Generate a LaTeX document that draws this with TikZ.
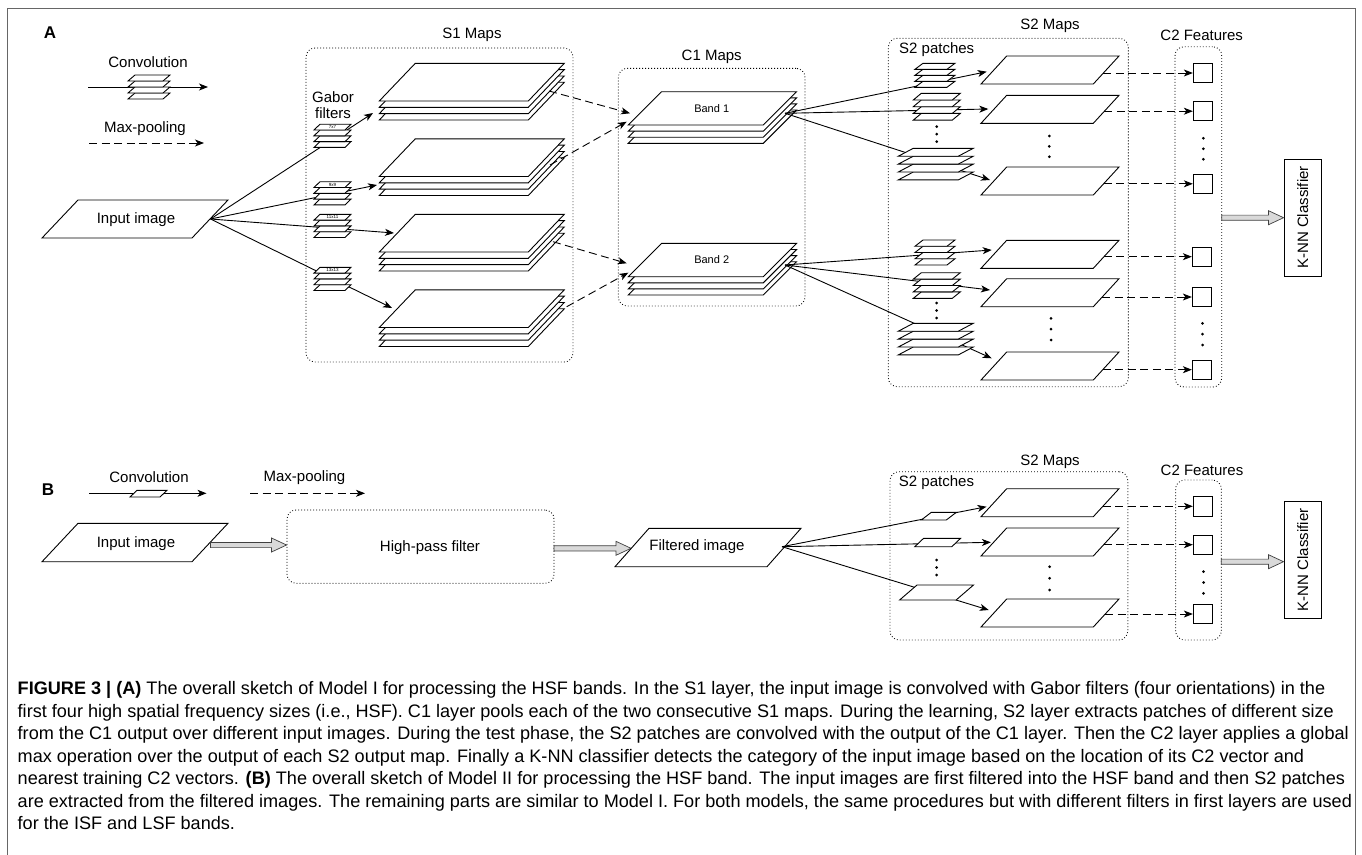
\documentclass[tikz,border=0pt]{standalone}
\usepackage{fontspec}
\setmainfont{Liberation Sans}
\usetikzlibrary{arrows.meta,calc}
\newcommand\sheet[5]{\filldraw[sheetst] (#1,#2) -- ++(#3,0) -- ++(#5,-#4) -- ++(-#3,0) -- cycle;}
\newcommand\stack[7]{\foreach \k in {#6,...,1}{\pgfmathsetmacro\yy{#2+(\k-1)*(#7)}\sheet{#1}{\yy}{#3}{#4}{#5}}}
\newcommand\blockarrow[2]{\draw[blockst] let \p1=(#1), \p2=(#2) in (\x1,\y1+2.6pt) -- (\x2-15pt,\y1+2.6pt) -- (\x2-15pt,\y1+7pt) -- (\x2,\y1) -- (\x2-15pt,\y1-7pt) -- (\x2-15pt,\y1-2.6pt) -- (\x1,\y1-2.6pt) -- cycle;}
\newcommand\dotcol[3]{\foreach \d in {0,1,2}{\fill (#1,{#2+\d*#3}) circle (1.5pt);}}
\tikzset{
 sheetst/.style={draw=black,fill=white,line width=0.9pt,line join=miter},
 convarr/.style={line width=0.9pt,-{Stealth[length=9pt,width=7pt,inset=2.5pt]}},
 pool/.style={convarr,dash pattern=on 8pt off 4.5pt},
 grp/.style={draw=black,line width=0.9pt,dash pattern=on 0.8pt off 2.2pt,rounded corners=9pt,inner sep=0pt},
 lbl/.style={font=\fontsize{15}{17}\selectfont,inner sep=0pt},
 smalllbl/.style={font=\fontsize{11}{13}\selectfont,inner sep=0pt},
 tinylbl/.style={font=\fontsize{4.5}{5}\selectfont,inner sep=0pt},
 sq/.style={draw=black,line width=0.9pt,minimum size=19.4pt,inner sep=0pt},
 knn/.style={draw=black,line width=0.9pt,minimum width=117pt,minimum height=37.7pt,inner sep=0pt,rotate=90,font=\fontsize{15}{17}\selectfont},
 blockst/.style={fill=black!15,draw=black!75,line width=0.7pt,line join=miter},
 panel/.style={font=\bfseries\fontsize{17}{19}\selectfont,inner sep=0pt},
 captext/.style={font=\fontsize{18.1}{22}\selectfont,inner sep=0pt,anchor=base west},
 frame/.style={draw=black!60,line width=1.6pt},
}
\begin{document}
\begin{tikzpicture}[x=1pt,y=-1pt]
\useasboundingbox (0,0) rectangle (1362,854);
\draw[frame] (7.5,8.3) rectangle (1355.5,858);

% ================= Panel A =================
\node[panel] (labA) at (50,33) {A};
\node[lbl] (convA) at (148,62) {Convolution};
\coordinate (convAs) at (88,87); \coordinate (convAe) at (208,87);
\draw[convarr] (convAs) -- (convAe);
\stack{128}{81}{35}{6}{7}{4}{6}
\node[lbl] (maxA) at (145,129) {Max-pooling};
\coordinate (maxAs) at (89,143); \coordinate (maxAe) at (204,143);
\draw[pool] (maxAs) -- (maxAe);

% groups
\node[grp,minimum width=267pt,minimum height=314pt] (s1box) at (439.5,205) {};
\node[lbl] (s1t) at (472,35) {S1 Maps};
\node[grp,minimum width=186.7pt,minimum height=237.7pt] (c1box) at (711.65,187.15) {};
\node[lbl] (c1t) at (711.7,56.7) {C1 Maps};
\node[grp,minimum width=240pt,minimum height=348.4pt] (s2box) at (1008.3,212.5) {};
\node[lbl] (s2t) at (1050,26) {S2 Maps};
\node[lbl] (s2p) at (936.7,50) {S2 patches};
\node[grp,minimum width=46.7pt,minimum height=340.3pt] (c2box) at (1198.35,216.85) {};
\node[lbl] (c2t) at (1201.7,35) {C2 Features};

% input image
\sheet{42}{238}{150}{38}{36}
\node[lbl] (inA) at (136,220) {Input image};
\coordinate (inAe) at (210.5,219);
\coordinate (s1a) at (373,113); \coordinate (s1b) at (377,185);
\coordinate (s1c) at (394,233); \coordinate (s1d) at (392,308);
\foreach \t in {s1a,s1b,s1c,s1d} \draw[convarr] (inAe) -- (\t);

% Gabor filters
\stack{314}{130}{31}{5.8}{6}{4}{5.8}   \node[tinylbl] (g7) at (332.5,127.1) {7x7};
\stack{314}{187.5}{31}{5.8}{6}{4}{5.8} \node[tinylbl] (g9) at (332.5,184.6) {9x9};
\stack{314}{220.1}{31}{5.8}{6}{4}{5.8} \node[tinylbl] (g11) at (332.5,217.2) {11x11};
\stack{314}{273.1}{31}{5.8}{6}{4}{5.8} \node[tinylbl] (g13) at (332.5,270.2) {13x13};
\node[lbl,align=center,font=\fontsize{15}{16}\selectfont] (gab) at (333,105) {Gabor\\filters};

% S1 maps
\stack{379.3}{101}{149}{37.7}{36}{4}{6.33}
\stack{379.3}{176.5}{149}{37.7}{36}{4}{6.33}
\stack{379.3}{252}{149}{37.7}{36}{4}{6.33}
\stack{379.3}{327.5}{149}{37.7}{36}{4}{6.33}

% C1 maps
\stack{628.3}{125}{135}{33.3}{33.3}{4}{6.1}
\node[smalllbl] (b1) at (711.7,109) {Band 1};
\stack{628.3}{276.7}{135}{33.3}{33.3}{4}{6.1}
\node[smalllbl] (b2) at (711.7,260) {Band 2};

% max pooling S1 -> C1
\coordinate (s1ae) at (549,91);  \coordinate (c1a) at (630,113.3);
\coordinate (s1be) at (550,165); \coordinate (c1b) at (626.7,121.7);
\coordinate (s1ce) at (553,241.7); \coordinate (c1c) at (626.7,263.3);
\coordinate (s1de) at (566.7,306.7); \coordinate (c1d) at (628.3,272.7);
\draw[pool] (s1ae) -- (c1a);
\draw[pool] (s1be) -- (c1b);
\draw[pool] (s1ce) -- (c1c);
\draw[pool] (s1de) -- (c1d);

% C1 -> S2 maps (through patches)
\coordinate (b1e) at (785,113.3); \coordinate (b2e) at (785,265);
\coordinate (mA1) at (986.7,71.7); \coordinate (mA2) at (988.3,109); \coordinate (mA3) at (990,180);
\coordinate (mA4) at (991.7,250); \coordinate (mA5) at (990,290); \coordinate (mA6) at (991.7,358.3);
\foreach \t in {mA1,mA2,mA3} \draw[convarr] (b1e) -- (\t);
\foreach \t in {mA4,mA5,mA6} \draw[convarr] (b2e) -- (\t);

% S2 patches
\stack{915}{69.3}{32}{6}{8}{4}{6}
\stack{913.3}{100}{39}{6.7}{8}{4}{6.7}
\stack{898.3}{156.2}{60}{7.9}{15}{4}{7.9}
\stack{915}{246.25}{32}{6.25}{8}{4}{6.25}
\stack{913.3}{279.1}{39}{6.4}{8}{4}{6.4}
\stack{898.3}{331.2}{60}{7.9}{15}{4}{7.9}
\dotcol{936.7}{126.7}{7.5}
\dotcol{936.7}{303}{7.5}

% S2 maps
\foreach \yb in {84,123.3,195,268.3,306.7,380} {\sheet{981}{\yb}{112.3}{28}{25.7}}
\dotcol{1049.3}{136}{10.35}
\dotcol{1051}{318.3}{10.85}

% C2 features
\node[sq] (qA1) at (1203,73) {};
\node[sq] (qA2) at (1203,111.2) {};
\node[sq] (qA3) at (1203,183.8) {};
\node[sq] (qA4) at (1202,256.7) {};
\node[sq] (qA5) at (1202,297) {};
\node[sq] (qA6) at (1202,369.7) {};
\dotcol{1203.3}{138.3}{10.5}
\dotcol{1202.5}{323.3}{10.85}
\foreach \yb/\yq/\n in {84/73/1,123.3/111.2/2,195/183.8/3,268.3/256.7/4,306.7/297/5,380/369.7/6}{
  \coordinate (mAr\n) at ({1093.3+(\yb-\yq)*25.7/28},\yq);
  \draw[pool] (mAr\n) -- (qA\n.west);}

% K-NN
\node[knn] (knnA) at (1302.85,217.5) {K-NN Classifier};
\coordinate (c2Ae) at (1221.7,217.7);
\coordinate (knnAw) at (knnA.north);
\blockarrow{c2Ae}{knnAw}

% ================= Panel B =================
\node[panel] (labB) at (48,490) {B};
\node[lbl] (convB) at (149,477) {Convolution};
\coordinate (convBs) at (89,493.3); \coordinate (convBe) at (206.5,493.3);
\draw[convarr] (convBs) -- (convBe);
\sheet{130}{497}{30}{6.7}{7}
\node[lbl] (maxB) at (304.5,477.5) {Max-pooling};
\coordinate (maxBs) at (250,493.3); \coordinate (maxBe) at (365,493.3);
\draw[pool] (maxBs) -- (maxBe);

\sheet{42}{561.7}{150}{38.4}{36}
\node[lbl] (inB) at (136,544) {Input image};
\coordinate (inBe) at (210.5,545);
\node[grp,minimum width=267pt,minimum height=73.3pt] (hpf) at (420.5,546.65) {};
\node[lbl] (hpft) at (430,548) {High-pass filter};
\blockarrow{inBe}{hpf.west}
\coordinate (hpfe) at (554,548.3);
\coordinate (fiw) at (631,548.3);
\blockarrow{hpfe}{fiw}
\sheet{615}{566.7}{152}{38.4}{34}
\node[lbl] (fi) at (697,547) {Filtered image};
\coordinate (fie) at (782,546.7);

\node[grp,minimum width=237.8pt,minimum height=168.3pt] (s2boxB) at (1008.9,555.85) {};
\node[lbl] (s2tB) at (1050,462) {S2 Maps};
\node[lbl] (s2pB) at (936.5,483) {S2 patches};
\node[grp,minimum width=45.7pt,minimum height=160pt] (c2boxB) at (1198.45,560) {};
\node[lbl] (c2tB) at (1202,470) {C2 Features};

\coordinate (mB1) at (986.5,506.7); \coordinate (mB2) at (990.9,542.3); \coordinate (mB3) at (988.7,610);
\foreach \t in {mB1,mB2,mB3} \draw[convarr] (fie) -- (\t);

\sheet{921.3}{520}{25}{7.7}{10}
\sheet{914.8}{546.7}{37}{8.3}{8.7}
\sheet{899.6}{600}{56.5}{15}{17.4}
\dotcol{936.5}{560}{7.5}

\foreach \yb in {516.7,556,627} {\sheet{981}{\yb}{112.3}{28}{25.7}}
\dotcol{1049.6}{566.7}{11.65}

\node[sq] (qB1) at (1203,506.3) {};
\node[sq] (qB2) at (1203,544.7) {};
\node[sq] (qB3) at (1203,614) {};
\dotcol{1203.5}{571.7}{10.8}
\foreach \yb/\yq/\n in {516.7/506.3/1,556/544.7/2,627/614/3}{
  \coordinate (mBr\n) at ({1093.3+(\yb-\yq)*25.7/28},\yq);
  \draw[pool] (mBr\n) -- (qB\n.west);}

\node[knn,minimum width=116.3pt] (knnB) at (1302.8,559.85) {K-NN Classifier};
\coordinate (c2Be) at (1221.3,561.7);
\coordinate (knnBw) at (knnB.north);
\blockarrow{c2Be}{knnBw}

% ================= Caption =================
\node[captext] (cap1) at (17.5,694.8) {\textbf{FIGURE 3 | (A)} The overall sketch of Model I for processing the HSF bands. In the S1 layer, the input image is convolved with Gabor filters (four orientations) in the};
\node[captext] (cap2) at (17.5,717.3) {first four high spatial frequency sizes (i.e., HSF). C1 layer pools each of the two consecutive S1 maps. During the learning, S2 layer extracts patches of different size};
\node[captext] (cap3) at (17.5,739.8) {from the C1 output over different input images. During the test phase, the S2 patches are convolved with the output of the C1 layer. Then the C2 layer applies a global};
\node[captext] (cap4) at (17.5,762.3) {max operation over the output of each S2 output map. Finally a K-NN classifier detects the category of the input image based on the location of its C2 vector and};
\node[captext] (cap5) at (17.5,784.8) {nearest training C2 vectors. \textbf{(B)} The overall sketch of Model II for processing the HSF band. The input images are first filtered into the HSF band and then S2 patches};
\node[captext] (cap6) at (17.5,807.3) {are extracted from the filtered images. The remaining parts are similar to Model I. For both models, the same procedures but with different filters in first layers are used};
\node[captext] (cap7) at (17.5,829.8) {for the ISF and LSF bands.};
\end{tikzpicture}
\end{document}
